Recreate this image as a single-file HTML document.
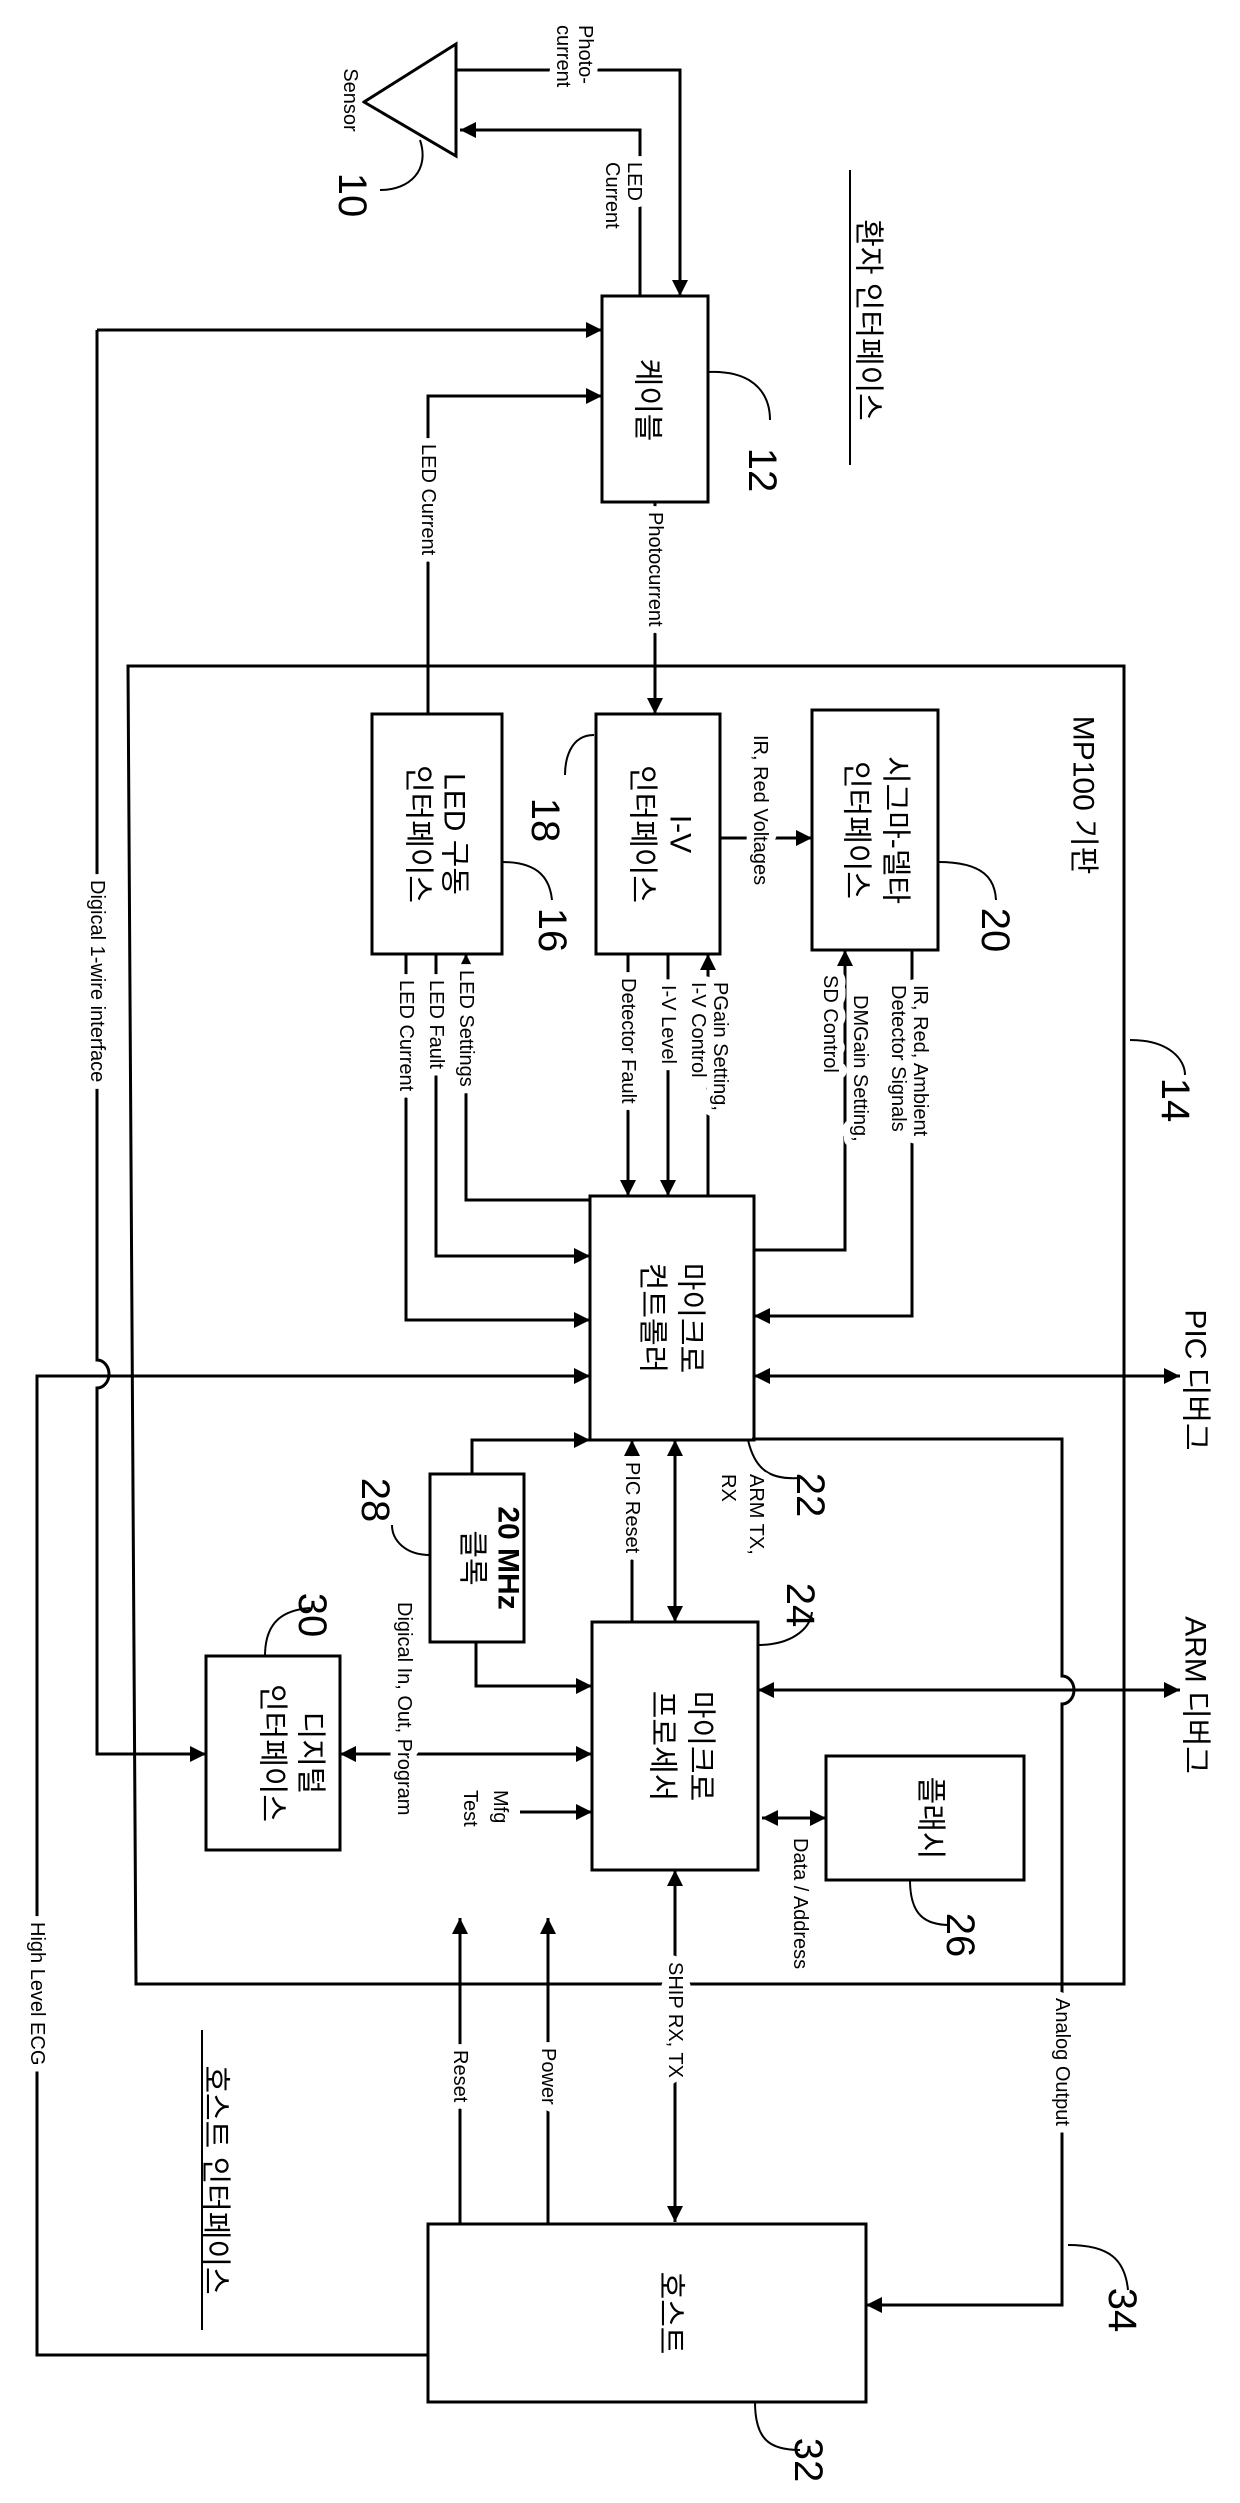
<!DOCTYPE html>
<html><head><meta charset="utf-8"><style>
html,body{margin:0;padding:0;background:#fff}
svg{display:block}
text{font-family:"Liberation Sans","Noto Sans CJK KR",sans-serif;fill:#000}
.l{font-size:20px;stroke:#fff;stroke-width:15px;paint-order:stroke;stroke-linejoin:round}
.b{font-size:30px}
.r{font-size:40px}
</style></head><body>
<svg width="1240" height="2503" viewBox="0 0 1240 2503" xmlns="http://www.w3.org/2000/svg">
<defs>
<marker id="a" viewBox="0 0 10 10" refX="10" refY="5" markerWidth="16" markerHeight="16" markerUnits="userSpaceOnUse" orient="auto-start-reverse"><path d="M0,0 L10,5 L0,10 z" fill="#000"/></marker>
</defs>
<g fill="none" stroke="#000" stroke-width="3">
<path d="M456,44 L364,102 L456,156 Z"/>
<path d="M420,140 C430,170 410,190 380,190" stroke-width="2"/>
<path d="M456,70 H680 V296" marker-end="url(#a)"/>
<path d="M640,296 V130 H460" marker-end="url(#a)"/>
<rect x="602" y="296" width="106" height="206"/>
<path d="M708,372 C760,370 770,400 770,420" stroke-width="2"/>
<path d="M97,330 V1360 A12,14 0 0 1 97,1388 V1754 H206" marker-end="url(#a)"/>
<path d="M97,330 H602" marker-end="url(#a)"/>
<path d="M428,714 V396 H602" marker-end="url(#a)"/>
<path d="M655,502 V714" marker-end="url(#a)"/>
<path d="M128,666 H1124 V1984 H136 Z"/>
<path d="M1130,1040 C1170,1040 1185,1060 1185,1075" stroke-width="2"/>
<rect x="372" y="714" width="130" height="240"/>
<rect x="596" y="714" width="124" height="240"/>
<rect x="812" y="710" width="126" height="240"/>
<path d="M594,735 C570,735 565,760 565,775" stroke-width="2"/>
<path d="M502,862 C540,862 550,880 552,900" stroke-width="2"/>
<path d="M938,862 C985,862 995,880 996,900" stroke-width="2"/>
<path d="M720,838 H812" marker-end="url(#a)"/>
<path d="M628,954 V1196" marker-end="url(#a)"/>
<path d="M668,954 V1196" marker-end="url(#a)"/>
<path d="M708,1196 V954" marker-end="url(#a)"/>
<rect x="590" y="1196" width="164" height="244"/>
<path d="M590,1200 H466 V954" marker-end="url(#a)"/>
<path d="M436,954 V1256 H590" marker-end="url(#a)"/>
<path d="M406,954 V1320 H590" marker-end="url(#a)"/>
<path d="M754,1250 H845 V950" marker-end="url(#a)"/>
<path d="M912,950 V1316 H754" marker-end="url(#a)"/>
<path d="M754,1376 H1180" marker-start="url(#a)" marker-end="url(#a)"/>
<path d="M428,2355 H37 V1376 H590" marker-end="url(#a)"/>
<rect x="430" y="1474" width="94" height="168"/>
<path d="M472,1474 V1440 H590" marker-end="url(#a)"/>
<path d="M476,1642 V1686 H592" marker-end="url(#a)"/>
<path d="M430,1555 C405,1555 392,1540 392,1525" stroke-width="2"/>
<rect x="592" y="1622" width="166" height="248"/>
<path d="M632,1622 V1440" marker-end="url(#a)"/>
<path d="M675,1440 V1622" marker-start="url(#a)" marker-end="url(#a)"/>
<path d="M748,1440 C755,1470 770,1480 800,1478" stroke-width="2"/>
<path d="M758,1645 C790,1645 810,1630 812,1612" stroke-width="2"/>
<path d="M752,1439 H1062 V1676 A12,14 0 0 1 1062,1704 V2305 H866" marker-end="url(#a)"/>
<path d="M758,1690 H1180" marker-start="url(#a)" marker-end="url(#a)"/>
<path d="M1068,2245 C1110,2245 1125,2260 1128,2290" stroke-width="2"/>
<rect x="826" y="1756" width="198" height="124"/>
<path d="M762,1818 H826" marker-start="url(#a)" marker-end="url(#a)"/>
<path d="M910,1880 C910,1915 925,1925 950,1925" stroke-width="2"/>
<rect x="206" y="1656" width="134" height="194"/>
<path d="M340,1754 H592" marker-start="url(#a)" marker-end="url(#a)"/>
<path d="M265,1656 C265,1620 285,1610 310,1608" stroke-width="2"/>
<path d="M520,1812 H592" marker-end="url(#a)"/>
<rect x="428" y="2224" width="438" height="178"/>
<path d="M460,2224 V1918" marker-end="url(#a)"/>
<path d="M548,2224 V1918" marker-end="url(#a)"/>
<path d="M675,1870 V2222" marker-start="url(#a)" marker-end="url(#a)"/>
<path d="M755,2402 C755,2440 770,2450 800,2450" stroke-width="2"/>
<path d="M850,170 V465" stroke-width="2"/>
<path d="M202,2030 V2330" stroke-width="2"/>
</g>
<g dominant-baseline="central">
<text class="l" transform="translate(350,100) rotate(90)" text-anchor="middle">Sensor</text>
<text class="r" transform="translate(352,195) rotate(90)" text-anchor="middle">10</text>
<text class="l" transform="translate(585,25) rotate(90)">Photo-</text>
<text class="l" transform="translate(563,25) rotate(90)">current</text>
<text class="l" transform="translate(634,162) rotate(90)">LED</text>
<text class="l" transform="translate(612,162) rotate(90)">Current</text>
<text class="b" transform="translate(647,400) rotate(90)" text-anchor="middle">케이블</text>
<text class="r" transform="translate(762,470) rotate(90)" text-anchor="middle">12</text>
<text class="b" transform="translate(868,320) rotate(90)" text-anchor="middle" font-size="34">환자 인터페이스</text>
<text class="l" transform="translate(428,444) rotate(90)">LED Current</text>
<text class="l" transform="translate(655,512) rotate(90)">Photocurrent</text>
<text class="b" transform="translate(1083,795) rotate(90)" text-anchor="middle">MP100 기판</text>
<text class="r" transform="translate(1175,1100) rotate(90)" text-anchor="middle">14</text>
<text class="b" transform="translate(454,834) rotate(90)" text-anchor="middle">LED 구동</text>
<text class="b" transform="translate(418,834) rotate(90)" text-anchor="middle">인터페이스</text>
<text class="b" transform="translate(680,834) rotate(90)" text-anchor="middle">I-V</text>
<text class="b" transform="translate(642,834) rotate(90)" text-anchor="middle">인터페이스</text>
<text class="b" transform="translate(895,830) rotate(90)" text-anchor="middle">시그마-델타</text>
<text class="b" transform="translate(856,830) rotate(90)" text-anchor="middle">인터페이스</text>
<text class="r" transform="translate(545,820) rotate(90)" text-anchor="middle">18</text>
<text class="r" transform="translate(552,930) rotate(90)" text-anchor="middle">16</text>
<text class="r" transform="translate(995,930) rotate(90)" text-anchor="middle">20</text>
<text class="l" transform="translate(760,735) rotate(90)">IR, Red Voltages</text>
<text class="l" transform="translate(720,982) rotate(90)">PGain Setting,</text>
<text class="l" transform="translate(698,982) rotate(90)">I-V Control</text>
<text class="l" transform="translate(668,985) rotate(90)">I-V Level</text>
<text class="l" transform="translate(628,978) rotate(90)">Detector Fault</text>
<text class="l" transform="translate(466,970) rotate(90)">LED Settings</text>
<text class="l" transform="translate(436,980) rotate(90)">LED Fault</text>
<text class="l" transform="translate(406,980) rotate(90)">LED Current</text>
<text class="l" transform="translate(920,985) rotate(90)">IR, Red, Ambient</text>
<text class="l" transform="translate(898,985) rotate(90)">Detector Signals</text>
<text class="l" transform="translate(860,995) rotate(90)">DMGain Setting,</text>
<text class="l" transform="translate(830,975) rotate(90)">SD Control</text>
<text class="l" transform="translate(97,880) rotate(90)">Digical 1-wire interface</text>
<text class="b" transform="translate(690,1318) rotate(90)" text-anchor="middle">마이크로</text>
<text class="b" transform="translate(652,1318) rotate(90)" text-anchor="middle">컨트롤러</text>
<text class="b" transform="translate(1195,1380) rotate(90)" text-anchor="middle">PIC 디버그</text>
<text class="b" transform="translate(1195,1695) rotate(90)" text-anchor="middle">ARM 디버그</text>
<text class="r" transform="translate(810,1495) rotate(90)" text-anchor="middle">22</text>
<text class="r" transform="translate(800,1605) rotate(90)" text-anchor="middle">24</text>
<text class="l" transform="translate(756,1474) rotate(90)">ARM TX,</text>
<text class="l" transform="translate(728,1474) rotate(90)">RX</text>
<text class="l" transform="translate(632,1462) rotate(90)">PIC Reset</text>
<text class="b" transform="translate(508,1558) rotate(90)" text-anchor="middle" font-weight="bold">20 MHz</text>
<text class="b" transform="translate(472,1558) rotate(90)" text-anchor="middle">클록</text>
<text class="r" transform="translate(375,1500) rotate(90)" text-anchor="middle">28</text>
<text class="r" transform="translate(312,1615) rotate(90)" text-anchor="middle">30</text>
<text class="b" transform="translate(700,1746) rotate(90)" text-anchor="middle">마이크로</text>
<text class="b" transform="translate(662,1746) rotate(90)" text-anchor="middle">프로세서</text>
<text class="b" transform="translate(930,1818) rotate(90)" text-anchor="middle">플래시</text>
<text class="r" transform="translate(960,1935) rotate(90)" text-anchor="middle">26</text>
<text class="b" transform="translate(310,1753) rotate(90)" text-anchor="middle">디지털</text>
<text class="b" transform="translate(272,1753) rotate(90)" text-anchor="middle">인터페이스</text>
<text class="l" transform="translate(404,1602) rotate(90)">Digical In, Out, Program</text>
<text class="l" transform="translate(500,1790) rotate(90)">Mfg</text>
<text class="l" transform="translate(470,1790) rotate(90)">Test</text>
<text class="l" transform="translate(800,1838) rotate(90)">Data / Address</text>
<text class="l" transform="translate(1062,1998) rotate(90)">Analog Output</text>
<text class="l" transform="translate(675,1962) rotate(90)">SHIP RX, TX</text>
<text class="l" transform="translate(460,2050) rotate(90)">Reset</text>
<text class="l" transform="translate(548,2048) rotate(90)">Power</text>
<text class="l" transform="translate(37,1922) rotate(90)">High Level ECG</text>
<text class="b" transform="translate(215,2180) rotate(90)" text-anchor="middle" font-size="34">호스트 인터페이스</text>
<text class="b" transform="translate(670,2313) rotate(90)" text-anchor="middle">호스트</text>
<text class="r" transform="translate(808,2460) rotate(90)" text-anchor="middle">32</text>
<text class="r" transform="translate(1122,2310) rotate(90)" text-anchor="middle">34</text>
</g>
</svg>
</body></html>
